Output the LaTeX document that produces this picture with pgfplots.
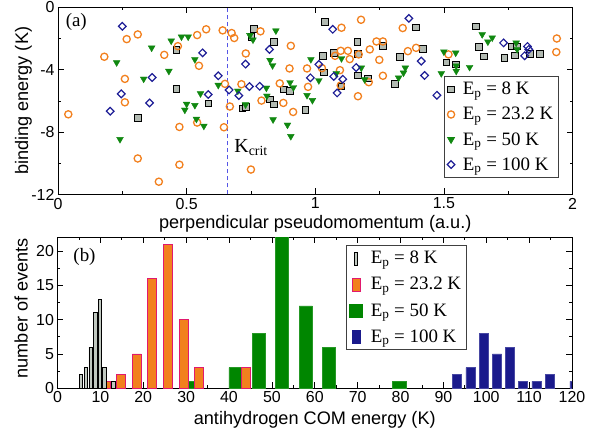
\documentclass[border=0pt]{standalone}
\usepackage{pgfplots}
\pgfplotsset{compat=1.18}
\usepackage{fontspec}
\setmainfont{Liberation Sans}
\newfontfamily\serif{Liberation Serif}
\definecolor{cgray}{RGB}{178,186,178}
\definecolor{corange}{RGB}{242,128,30}
\definecolor{cgreen}{RGB}{16,136,16}
\definecolor{cblue}{RGB}{30,30,150}
\definecolor{hgreen}{RGB}{0,134,0}
\definecolor{hblue}{RGB}{26,26,140}
\definecolor{cmag}{RGB}{225,25,110}
\definecolor{cdash}{RGB}{85,85,230}
\definecolor{hgray}{RGB}{192,200,192}
\begin{document}
\begin{tikzpicture}
\useasboundingbox (0bp,0bp) rectangle (600bp,436bp);
\pgfplotsset{
  every axis/.append style={
    scale only axis,
    tick align=inside,
    axis line style={line width=0.9bp},
    every tick/.style={black, line width=0.7bp},
    major tick length=6bp, minor tick length=3bp,
    ticklabel style={font=\fontsize{16}{16}\selectfont},
    label style={font=\fontsize{18.2}{18.2}\selectfont},
    /pgf/number format/assume math mode=true,
  }
}
% ---------------- panel (a)
\begin{axis}[
  at={(58bp,241.5bp)}, anchor=south west,
  width=514.5bp, height=187.2bp,
  xmin=0, xmax=2, ymin=-12, ymax=0,
  xtick={0,0.5,1,1.5,2}, xticklabels={0,0.5,1,1.5,2},
  ytick={-12,-8,-4,0}, yticklabels={-12,-8,-4,0},
  minor xtick={0.25,0.75,1.25,1.75},
  minor ytick={-10,-6,-2},
  xlabel={perpendicular pseudomomentum (a.u.)},
  ylabel={binding energy (K)},
  xlabel style={at={(axis description cs:0.5,-0.184)}, anchor=base},
  ylabel style={at={(axis description cs:-0.058,0.5)}, anchor=base},
  legend style={at={(rel axis cs:0.973,0.633)}, anchor=north east,
    font=\serif\fontsize{19}{19}\selectfont, draw=black!75, line width=0.8bp,
    cells={anchor=west}, row sep=7bp, inner xsep=3bp, inner ysep=4bp,
    /tikz/every odd column/.append style={column sep=6bp}},
]
\draw[color=cdash, line width=1.4bp, dash pattern=on 4bp off 3bp] (axis cs:0.66,-12) -- (axis cs:0.66,0);
\addplot[only marks, mark=square*, mark size=3.3bp, mark options={fill=cgray, draw=black, line width=0.7bp}] coordinates {
(0.311,-7.07) (0.46,-2.74) (0.46,-5.23) (0.584,-6.17) (0.716,-6.47) (0.73,-6.39)
(0.751,-1.91) (0.762,-1.39) (0.823,-5.91) (0.838,-2.23) (0.839,-6.23) (0.879,-5.27)
(0.901,-5.36) (0.962,-6.56) (1.029,-3.13) (1.034,-4.16) (1.037,-0.94) (1.072,-2.92)
(1.102,-5.08) (1.164,-2.23) (1.166,-2.98) (1.166,-4.35) (1.205,-4.56) (1.263,-2.47)
(1.309,-4.91) (1.328,-3.19) (1.392,-1.29) (1.419,-2.68) (1.509,-3.54) (1.546,-3.66)
(1.625,-1.22) (1.636,-2.55) (1.656,-3.15) (1.735,-3.24) (1.762,-2.51) (1.775,-3.07)
(1.784,-2.51) (1.834,-3.0) (1.872,-3.0)};
\addlegendentry{E\textsubscript{p} = 8 K}
\addplot[only marks, mark=o, mark size=3.6bp, mark options={draw=corange, line width=1.3bp}] coordinates {
(0.04,-6.86) (0.18,-3.17) (0.26,-4.59) (0.26,-6.09) (0.267,-2.04) (0.31,-1.74)
(0.31,-9.69) (0.392,-11.18) (0.413,-3.05) (0.466,-2.49) (0.472,-7.67) (0.472,-10.09)
(0.541,-1.78) (0.541,-7.39) (0.548,-3.75) (0.576,-1.41) (0.64,-1.48) (0.645,-7.69)
(0.649,-4.91) (0.668,-6.36) (0.675,-1.65) (0.685,-1.97) (0.713,-4.93) (0.73,-2.96)
(0.75,-10.4) (0.787,-1.54) (0.791,-5.98) (0.862,-4.88) (0.876,-6.13) (0.9,-3.92)
(0.905,-2.47) (0.914,-6.71) (0.968,-3.92) (0.972,-5.1) (1.026,-3.9) (1.077,-3.11)
(1.096,-4.03) (1.099,-2.79) (1.099,-5.01) (1.102,-1.31) (1.127,-2.79) (1.134,-3.32)
(1.166,-5.7) (1.169,-3.02) (1.178,-0.8) (1.208,-4.8) (1.212,-2.7) (1.238,-2.19)
(1.249,-3.37) (1.263,-2.19) (1.263,-4.39) (1.34,-1.33) (1.36,-2.81) (1.392,-2.6)
(1.518,-3.02) (1.937,-2.87) (1.939,-2.0)};
\addlegendentry{E\textsubscript{p} = 23.2 K}
\addplot[only marks, mark=triangle*, mark size=3.9bp, mark options={fill=cgreen, draw=cgreen, rotate=180}] coordinates {
(0.228,-3.54) (0.241,-8.46) (0.333,-4.59) (0.364,-2.6) (0.431,-4.09) (0.44,-2.15)
(0.48,-1.89) (0.5,-6.2) (0.493,-6.58) (0.506,-1.89) (0.532,-3.34) (0.532,-6.28)
(0.538,-7.16) (0.554,-5.53) (0.567,-7.61) (0.623,-4.99) (0.699,-5.36) (0.729,-6.24)
(0.746,-1.8) (0.758,-2.08) (0.81,-5.17) (0.812,-5.68) (0.824,-3.39) (0.834,-3.73)
(0.836,-7.2) (0.847,-1.5) (0.892,-7.54) (0.902,-4.82) (0.905,-8.27) (0.915,-5.14)
(0.968,-5.64) (0.983,-3.34) (0.989,-5.96) (1.014,-4.69) (1.082,-4.24) (1.102,-3.28)
(1.179,-3.88) (1.192,-4.63) (1.324,-4.52) (1.343,-4.2) (1.35,-3.88) (1.49,-4.24)
(1.5,-2.85) (1.546,-2.92) (1.548,-3.75) (1.548,-4.09) (1.6,-3.84) (1.649,-1.74)
(1.671,-2.21) (1.688,-1.95) (1.781,-2.28) (1.785,-2.7)};
\addlegendentry{E\textsubscript{p} = 50 K}
\addplot[only marks, mark=square, mark size=2.7bp, mark options={draw=cblue, line width=1.2bp, rotate=45}] coordinates {
(0.203,-6.66) (0.246,-5.55) (0.25,-1.22) (0.356,-6.13) (0.366,-4.5) (0.562,-2.92)
(0.584,-5.59) (0.623,-4.39) (0.665,-5.3) (0.703,-5.66) (0.729,-3.64) (0.744,-5.08)
(0.784,-5.06) (0.822,-2.7) (0.981,-4.52) (1.014,-3.66) (1.068,-1.41) (1.072,-4.43)
(1.085,-5.49) (1.107,-4.61) (1.159,-3.86) (1.364,-0.71) (1.412,-3.45) (1.425,-4.37)
(1.473,-5.64) (1.732,-2.28) (1.814,-3.11) (1.825,-2.51) (1.83,-2.7)};
\addlegendentry{E\textsubscript{p} = 100 K}
\node[font=\serif\fontsize{19}{19}\selectfont] at (axis cs:0.071,-0.91) {(a)};
\node[font=\serif\fontsize{20}{20}\selectfont, anchor=base west] at (axis cs:0.672,-9.3) {K\textsubscript{crit}};
\end{axis}
% ---------------- panel (b)
\begin{axis}[
  at={(57.5bp,47.7bp)}, anchor=south west,
  width=514.5bp, height=151bp,
  xmin=0, xmax=120, ymin=0, ymax=22,
  xtick={0,10,...,120}, xticklabels={0,10,20,30,40,50,60,70,80,90,100,110,120},
  ytick={0,5,10,15,20}, yticklabels={0,5,10,15,20},
  minor xtick={5,15,...,115},
  minor ytick={2.5,7.5,12.5,17.5},
  xlabel={antihydrogen COM energy (K)},
  ylabel={number of events},
  xlabel style={at={(axis description cs:0.5,-0.243)}, anchor=base},
  ylabel style={at={(axis description cs:-0.058,0.53)}, anchor=base},
  legend style={at={(rel axis cs:0.56,0.949)}, anchor=north west,
    font=\serif\fontsize{19}{19}\selectfont, draw=black!75, line width=0.8bp,
    cells={anchor=west}, row sep=8bp, inner xsep=3bp, inner ysep=4bp,
    /tikz/every odd column/.append style={column sep=6bp}},
]
\addlegendimage{legend image code/.code={\draw[fill=hgray, draw=black, line width=0.6bp] (7bp,-6.5bp) rectangle (10bp,6.5bp);}}
\addlegendentry{E\textsubscript{p} = 8 K}
\addlegendimage{legend image code/.code={\draw[fill=corange, draw=cmag, line width=0.8bp] (4.5bp,-6.5bp) rectangle (12.5bp,6.5bp);}}
\addlegendentry{E\textsubscript{p} = 23.2 K}
\addlegendimage{legend image code/.code={\fill[hgreen] (2bp,-6.5bp) rectangle (15bp,6.5bp);}}
\addlegendentry{E\textsubscript{p} = 50 K}
\addlegendimage{legend image code/.code={\fill[hblue] (4.5bp,-6.5bp) rectangle (12.5bp,6.5bp);}}
\addlegendentry{E\textsubscript{p} = 100 K}
\addplot[ybar, bar shift=0pt, bar width=3.05, fill=hgreen, draw=hgreen!85!white, line width=0.5bp, forget plot] coordinates {
(30.5,1) (41.5,3) (46.9,8) (52.4,24) (57.9,12) (63.3,6) (79.7,1)};
\addplot[ybar, bar shift=0pt, bar width=2.15, fill=hblue, draw=hblue!80!white, line width=0.5bp, forget plot] coordinates {
(93.2,2) (96.3,3) (99.4,8) (102.5,5) (105.5,6) (108.6,1) (111.7,1) (114.8,2) (120.6,1)};
\addplot[ybar, bar shift=0pt, bar width=2.1, fill=corange, draw=cmag, line width=0.8bp, forget plot] coordinates {
(11.2,1) (14.8,2) (18.5,5) (22.1,16) (25.8,21) (29.4,10) (33.0,3) (44.0,3)};
\addplot[ybar, bar shift=0pt, bar width=0.75, fill=hgray, draw=black, line width=0.6bp, forget plot] coordinates {
(5.5,2) (6.6,3) (7.7,6) (8.8,11) (9.9,13) (10.9,3) (13.0,1)};
\node[font=\serif\fontsize{19}{19}\selectfont] at (axis cs:6.3,19.2) {(b)};
\end{axis}
\end{tikzpicture}
\end{document}
